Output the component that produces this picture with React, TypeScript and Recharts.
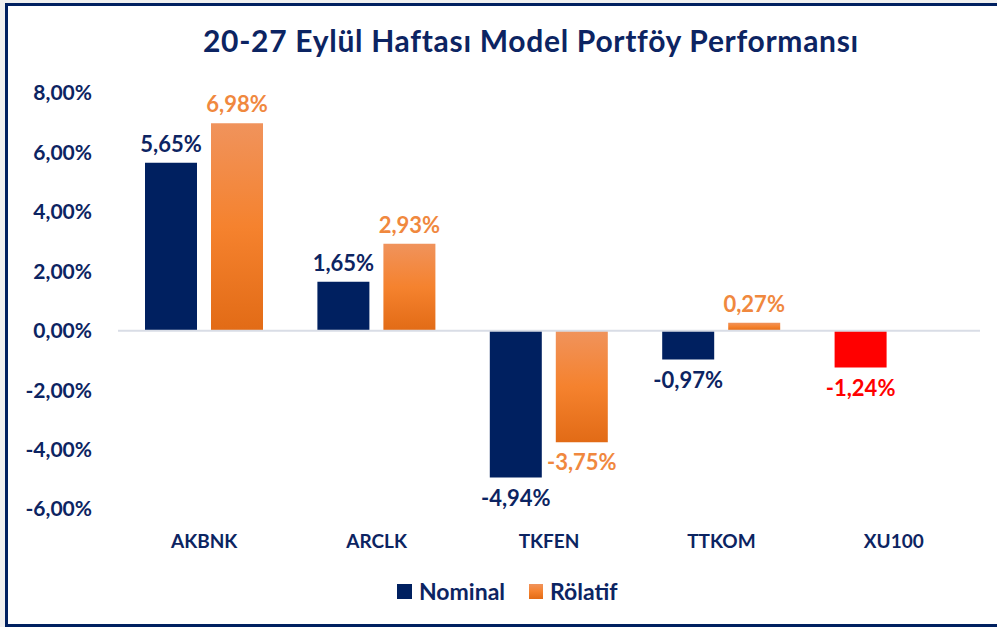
import React from 'react';
import { BarChart, Bar, XAxis, YAxis, ReferenceLine, LabelList, Cell } from 'recharts';

const categories = ['AKBNK', 'ARCLK', 'TKFEN', 'TTKOM', 'XU100'];
const nominal: (number | null)[] = [5.65, 1.65, -4.94, -0.97, -1.24];
const relative: (number | null)[] = [6.98, 2.93, -3.75, 0.27, null];
const yTicks = [-6, -4, -2, 0, 2, 4, 6, 8];
const TITLE = '20-27 Eylül Haftası Model Portföy Performansı';
const SERIES_NAMES = ['Nominal', 'Rölatif'];
const INDEX_CATEGORY = 'XU100';

const data = categories.map((name, i) => ({ name, nominal: nominal[i], relative: relative[i] }));

const NAVY = '#002060';
const TEXT = '#0c2462';
const ORANGE_LABEL = '#f0883e';
const RED = '#ff0000';
const FONT = 'Lato, "Open Sans", sans-serif';

const fmt = (v: number) => v.toFixed(2).replace('.', ',') + '%';

const makeLabel = (colorFn: (i: number) => string) => (props: any) => {
  const { x, y, width, height, value, index } = props;
  if (value === null || value === undefined) return null;
  const top = Math.min(y, y + height);
  const bottom = Math.max(y, y + height);
  const cx = x + width / 2;
  const ty = value >= 0 ? top - 11 : bottom + 28;
  return (
    <text x={cx} y={ty} textAnchor="middle" fill={colorFn(index)} fontFamily={FONT} fontWeight={700} fontSize={22}>
      {fmt(value)}
    </text>
  );
};

const XTick = (props: any) => {
  const { x, y, payload } = props;
  return (
    <text x={x} y={y + 31} textAnchor="middle" fill={TEXT} fontFamily={FONT} fontWeight={700} fontSize={19}>
      {payload.value}
    </text>
  );
};

export default function App() {
  return (
    <div style={{ position: 'fixed', left: 0, top: 0, width: 997, height: 627, background: '#f0f0f0', overflow: 'hidden' }}>
      <div style={{ position: 'absolute', left: 5, top: 3, width: 1100, height: 624, boxSizing: 'border-box', borderLeft: `3px solid ${NAVY}`, borderTop: `3px solid ${NAVY}`, borderBottom: `3px solid ${NAVY}`, background: '#fff' }} />
      <div style={{ position: 'absolute', left: 0, top: 25, width: 1062, textAlign: 'center', fontFamily: FONT, fontWeight: 700, fontSize: 30, letterSpacing: 0.7, lineHeight: '30px', color: TEXT, whiteSpace: 'nowrap' }}>
        {TITLE}
      </div>
      <div style={{ position: 'absolute', left: 0, top: 0 }}>
        <BarChart width={997} height={627} data={data} margin={{ top: 93, right: 17, bottom: 88, left: 0 }} barSize={52} barGap={14}>
          <defs>
            <linearGradient id="orangeGrad" x1="0" y1="0" x2="0" y2="1">
              <stop offset="0%" stopColor="#f0935c" />
              <stop offset="50%" stopColor="#f5822e" />
              <stop offset="100%" stopColor="#e26b16" />
            </linearGradient>
          </defs>
          <XAxis dataKey="name" axisLine={false} tickLine={false} height={30} tick={<XTick />} interval={0} />
          <YAxis
            domain={[-6, 8]}
            ticks={yTicks}
            width={118}
            axisLine={false}
            tickLine={false}
            tickSize={0}
            tickMargin={26}
            tickFormatter={fmt}
            tick={{ fill: TEXT, fontFamily: FONT, fontWeight: 700, fontSize: 21 }}
            interval={0}
          />
          <ReferenceLine y={0} stroke="#d9dde6" strokeWidth={2} />
          <Bar dataKey="nominal" name={SERIES_NAMES[0]} fill={NAVY} isAnimationActive={false}>
            {data.map((d, i) => (
              <Cell key={i} fill={d.name === INDEX_CATEGORY ? RED : NAVY} />
            ))}
            <LabelList dataKey="nominal" content={makeLabel((i) => (data[i] && data[i].name === INDEX_CATEGORY ? RED : TEXT))} />
          </Bar>
          <Bar dataKey="relative" name={SERIES_NAMES[1]} fill="url(#orangeGrad)" isAnimationActive={false}>
            <LabelList dataKey="relative" content={makeLabel(() => ORANGE_LABEL)} />
          </Bar>
        </BarChart>
      </div>
      <div style={{ position: 'absolute', left: 397, top: 576, height: 30, display: 'flex', alignItems: 'center', fontFamily: FONT, fontWeight: 700, fontSize: 23, color: TEXT }}>
        <div style={{ width: 15, height: 15, background: NAVY, marginRight: 7 }} />
        <span>{SERIES_NAMES[0]}</span>
        <div style={{ width: 14, height: 15, background: 'linear-gradient(#f0935c, #f5822e, #e26b16)', marginLeft: 24, marginRight: 7 }} />
        <span>{SERIES_NAMES[1]}</span>
      </div>
    </div>
  );
}
